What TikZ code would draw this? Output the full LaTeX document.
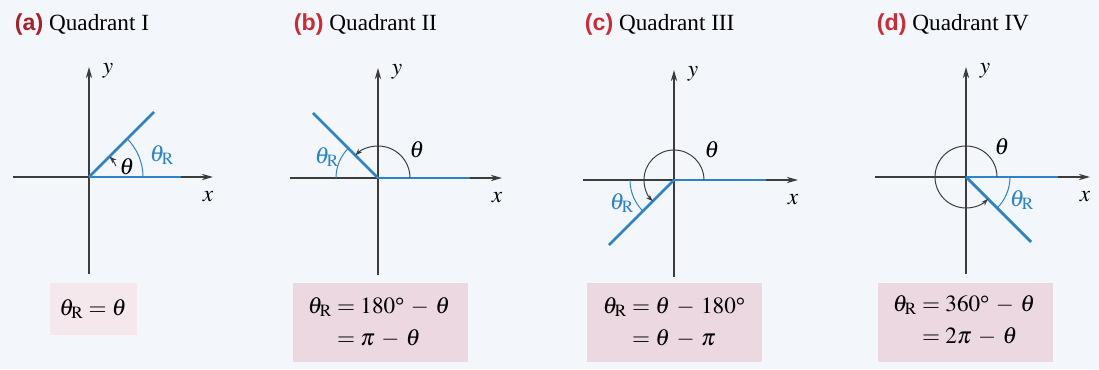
\documentclass[tikz,border=0pt]{standalone}
\usepackage{amsmath}
\usepackage{mathptmx}
\usepackage{fontspec}
\setmainfont{Liberation Serif}
\setsansfont{Liberation Sans}
\usepackage{tikz}
\usetikzlibrary{arrows.meta,positioning,calc}
\definecolor{rayblue}{RGB}{45,130,200}
\definecolor{axisgray}{RGB}{60,60,60}
\definecolor{tagred}{RGB}{200,45,55}
\definecolor{boxpink}{RGB}{236,216,224}
\definecolor{pagebg}{RGB}{243,247,251}
\newcommand{\dg}{\text{\textdegree}}
\newcommand{\mn}{\:-\:}

\tikzset{
  axis/.style={axisgray, line width=0.9pt, -{Stealth[length=8pt,width=4.5pt]}},
  ray/.style={rayblue, line width=2pt},
  refarc/.style={rayblue, line width=0.7pt},
  turnarc/.style={axisgray, line width=0.7pt, -{Stealth[length=5pt,width=3.5pt]}},
  tag/.style={anchor=west}
}

\begin{document}
\begin{tikzpicture}[x=0.025cm, y=0.025cm, font=\fontsize{16.5}{20}\selectfont]
  \fill[pagebg] (0,0) rectangle (1099,369);
  % Formula boxes
  \fill[boxpink!60] (50,34) rectangle (137,86);
  \foreach \bx in {293,587,878}
    \fill[boxpink] (\bx,7) rectangle (\bx+175,86);
  % Axes, angle sides and arcs
  \foreach \i/\ox/\oy/\ang/\xl/\ts/\tr/\rs/\re/\rr in {a/89/192/45/76/22/29/0/45/54,
      b/378/191/135/88/0/32/135/180/42, c/674/189/225/91/0/30/180/225/44,
      d/966/192/315/91/0/31/315/360/44}{
    \coordinate (o\i) at (\ox,\oy);
    \draw[axis] ($(o\i)+(0,-97)$) -- ($(o\i)+(0,110)$);
    \draw[axis] ($(o\i)+(-\xl,0)$) -- ($(o\i)+(124,0)$);
    \node (y\i) at ($(o\i)+(19,106)$) {$y$};
    \node (x\i) at ($(o\i)+(119,-20)$) {$x$};
    \draw[ray] (o\i) -- ++(92,0);
    \draw[ray] (o\i) -- ++(\ang:92);
    \draw[refarc] ($(o\i)+(\rs:\rr)$) arc[start angle=\rs, end angle=\re, radius=\rr];
    \draw[turnarc] ($(o\i)+(\ts:\tr)$) arc[start angle=\ts, end angle=\ang, radius=\tr];
  }
  % Angle labels
  \node (ta) at ($(oa)+(38,10)$) {$\theta$};
  \node (tb) at ($(ob)+(39,28)$) {$\theta$};
  \node (tc) at ($(oc)+(38,30)$) {$\theta$};
  \node (td) at ($(od)+(36,30)$) {$\theta$};
  \node[text=rayblue] (ra) at ($(oa)+(73,22)$) {$\theta_{\mathrm{R}}$};
  \node[text=rayblue] (rb) at ($(ob)+(-51,21)$) {$\theta_{\mathrm{R}}$};
  \node[text=rayblue] (rc) at ($(oc)+(-52,-23)$) {$\theta_{\mathrm{R}}$};
  \node[text=rayblue] (rd) at ($(od)+(56,-23)$) {$\theta_{\mathrm{R}}$};
  % Titles
  \node[tag] (ha) at (10,344) {\textsf{\bfseries\color{tagred!80!black}(a)}\ Quadrant I};
  \node[tag] (hb) at (289,344) {\textsf{\bfseries\color{tagred}(b)}\ Quadrant II};
  \node[tag] (hc) at (580,344) {\textsf{\bfseries\color{tagred}(c)}\ Quadrant III};
  \node[tag] (hd) at (872,344) {\textsf{\bfseries\color{tagred}(d)}\ Quadrant IV};
  % Formulas
  \node (fa) at (93,60) {$\theta_{\mathrm{R}} = \theta$};
  \node (fb) at (379,45) {$\begin{aligned}\theta_{\mathrm{R}} &= 180\dg \mn \theta\\ &= \pi \mn \theta\end{aligned}$};
  \node (fc) at (674,45) {$\begin{aligned}\theta_{\mathrm{R}} &= \theta \mn 180\dg\\ &= \theta \mn \pi\end{aligned}$};
  \node (fd) at (964,47) {$\begin{aligned}\theta_{\mathrm{R}} &= 360\dg \mn \theta\\ &= 2\pi \mn \theta\end{aligned}$};
\end{tikzpicture}
\end{document}
